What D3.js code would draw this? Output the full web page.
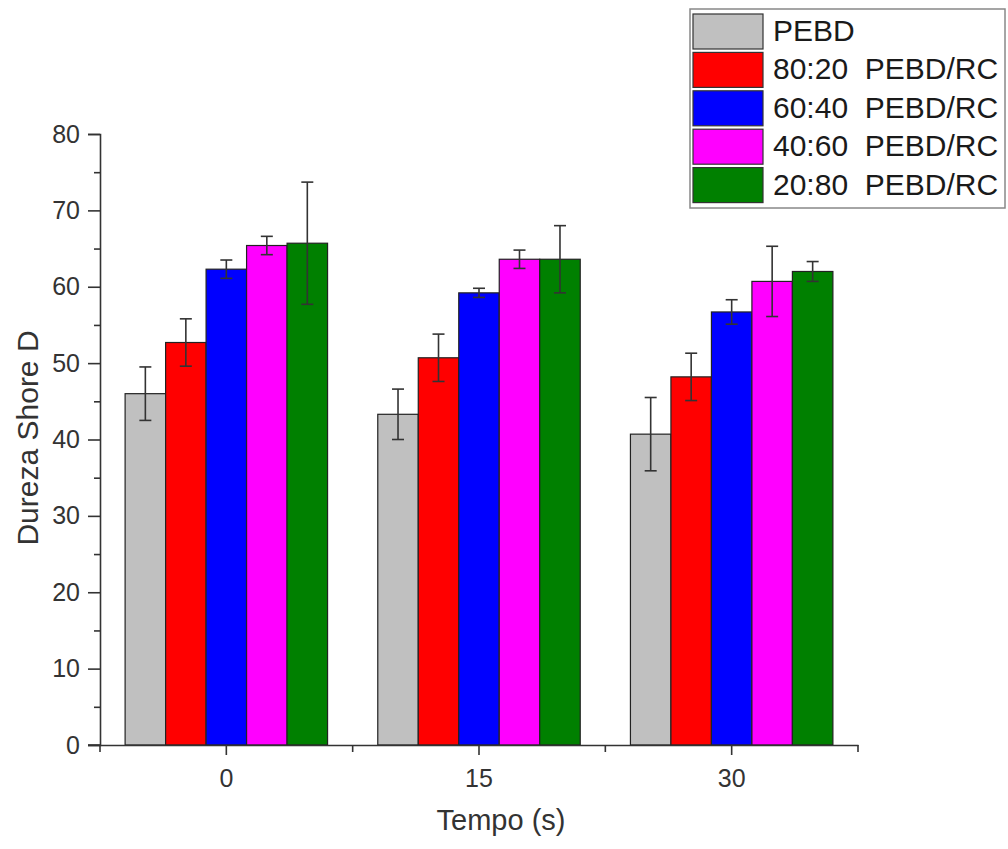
<!DOCTYPE html>
<html>
<head>
<meta charset="utf-8">
<script src="https://cdn.jsdelivr.net/npm/d3@7"></script>
<style>
  html, body { margin: 0; padding: 0; background: #fff; }
  svg { display: block; font-family: "Liberation Sans", Arial, sans-serif; }
</style>
</head>
<body>
<svg id="chart" width="1008" height="849"></svg>
<script>
// ---- data ----
const categories = ["0", "15", "30"];
const seriesNames = ["PEBD", "80:20  PEBD/RC", "60:40  PEBD/RC", "40:60  PEBD/RC", "20:80  PEBD/RC"];
const seriesColors = ["#c0c0c0", "#ff0000", "#0000ff", "#ff00ff", "#008000"];
const pebd      = [46.0, 43.3, 40.7];
const pebd8020  = [52.7, 50.7, 48.2];
const pebd6040  = [62.3, 59.2, 56.7];
const pebd4060  = [65.4, 63.6, 60.7];
const pebd2080  = [65.7, 63.6, 62.0];
const err_pebd     = [3.5, 3.3, 4.8];
const err_8020     = [3.1, 3.1, 3.1];
const err_6040     = [1.2, 0.6, 1.6];
const err_4060     = [1.2, 1.2, 4.6];
const err_2080     = [8.0, 4.4, 1.3];
const yMajorTicks = [0, 10, 20, 30, 40, 50, 60, 70, 80];
const yMinorTicks = [5, 15, 25, 35, 45, 55, 65, 75];
const xTitle = "Tempo (s)";
const yTitle = "Dureza Shore D";

const values = [pebd, pebd8020, pebd6040, pebd4060, pebd2080];
const errors = [err_pebd, err_8020, err_6040, err_4060, err_2080];

// ---- layout ----
const svg = d3.select("#chart");
const plot = { left: 100, right: 858, top: 134, bottom: 745 };
const axisColor = "#333";

const x0 = d3.scaleBand().domain(categories).range([plot.left, plot.right]).paddingInner(0).paddingOuter(0);
const x1 = d3.scaleBand().domain(d3.range(seriesNames.length)).range([0, x0.bandwidth()]).paddingInner(0).paddingOuter(0.62);
const y = d3.scaleLinear().domain([0, 80]).range([plot.bottom, plot.top]);

// bars
const data = [];
categories.forEach((c, ci) => {
  seriesNames.forEach((s, si) => {
    data.push({ cat: c, si, v: values[si][ci], e: errors[si][ci] });
  });
});

svg.append("g").selectAll("rect").data(data).join("rect")
  .attr("x", d => x0(d.cat) + x1(d.si))
  .attr("y", d => y(d.v))
  .attr("width", x1.bandwidth())
  .attr("height", d => y(0) - y(d.v))
  .attr("fill", d => seriesColors[d.si])
  .attr("stroke", "#222")
  .attr("stroke-width", 1.2);

// error bars
const eb = svg.append("g").attr("stroke", "#444").attr("stroke-width", 1.4);
data.forEach(d => {
  const cx = x0(d.cat) + x1(d.si) + x1.bandwidth() / 2;
  eb.append("line").attr("x1", cx).attr("x2", cx).attr("y1", y(d.v + d.e)).attr("y2", y(d.v - d.e));
  [d.v + d.e, d.v - d.e].forEach(t => {
    eb.append("line").attr("x1", cx - 6).attr("x2", cx + 6).attr("y1", y(t)).attr("y2", y(t));
  });
});

// y axis
svg.append("g").attr("transform", `translate(${plot.left},0)`)
  .call(d3.axisLeft(y).tickValues(yMajorTicks).tickSize(12).tickPadding(8).tickFormat(d3.format("d")));
svg.append("g").attr("transform", `translate(${plot.left},0)`)
  .call(d3.axisLeft(y).tickValues(yMinorTicks).tickSize(6).tickFormat(""))
  .call(g => g.select(".domain").remove());

// x axis
svg.append("g").attr("transform", `translate(0,${plot.bottom})`)
  .call(d3.axisBottom(x0).tickSize(10).tickPadding(14).tickSizeOuter(0));
const xMinor = [plot.left, ...categories.slice(1).map(c => x0(c)), plot.right];
svg.append("g").attr("transform", `translate(0,${plot.bottom})`)
  .selectAll("line").data(xMinor).join("line")
  .attr("x1", d => d).attr("x2", d => d).attr("y1", 0).attr("y2", 7);

svg.selectAll(".domain, .tick line").attr("stroke", axisColor).attr("stroke-width", 1.6);
svg.selectAll("g > line").filter(function(){ return !this.getAttribute("stroke"); }).attr("stroke", axisColor).attr("stroke-width", 1.6);
svg.selectAll(".tick text").attr("fill", "#333").style("font-size", "25px").style("font-family", "'Liberation Sans', Arial, sans-serif");
svg.append("line").attr("x1", plot.left - 12).attr("x2", plot.left).attr("y1", plot.bottom).attr("y2", plot.bottom)
  .attr("stroke", axisColor).attr("stroke-width", 1.6);

// titles
svg.append("text").attr("x", (plot.left + plot.right) / 2 + 22).attr("y", 830)
  .attr("text-anchor", "middle").attr("fill", "#333").style("font-size", "29px").text(xTitle);
svg.append("text").attr("transform", `translate(38,438) rotate(-90)`)
  .attr("text-anchor", "middle").attr("fill", "#333").style("font-size", "30px").text(yTitle);

// legend
const lg = svg.append("g");
lg.append("rect").attr("x", 690).attr("y", 9).attr("width", 315).attr("height", 199)
  .attr("fill", "#fff").attr("stroke", "#888").attr("stroke-width", 1.5);
const rowH = 38.4;
seriesNames.forEach((s, i) => {
  const top = 14 + i * rowH;
  lg.append("rect").attr("x", 693).attr("y", top).attr("width", 70).attr("height", 35)
    .attr("fill", seriesColors[i]).attr("stroke", "#333").attr("stroke-width", 1.2);
  lg.append("text").attr("x", 773).attr("y", top + 27).attr("fill", "#1a1a1a")
    .style("font-size", "30px").style("white-space", "pre").attr("xml:space", "preserve").text(s);
});
</script>
</body>
</html>
